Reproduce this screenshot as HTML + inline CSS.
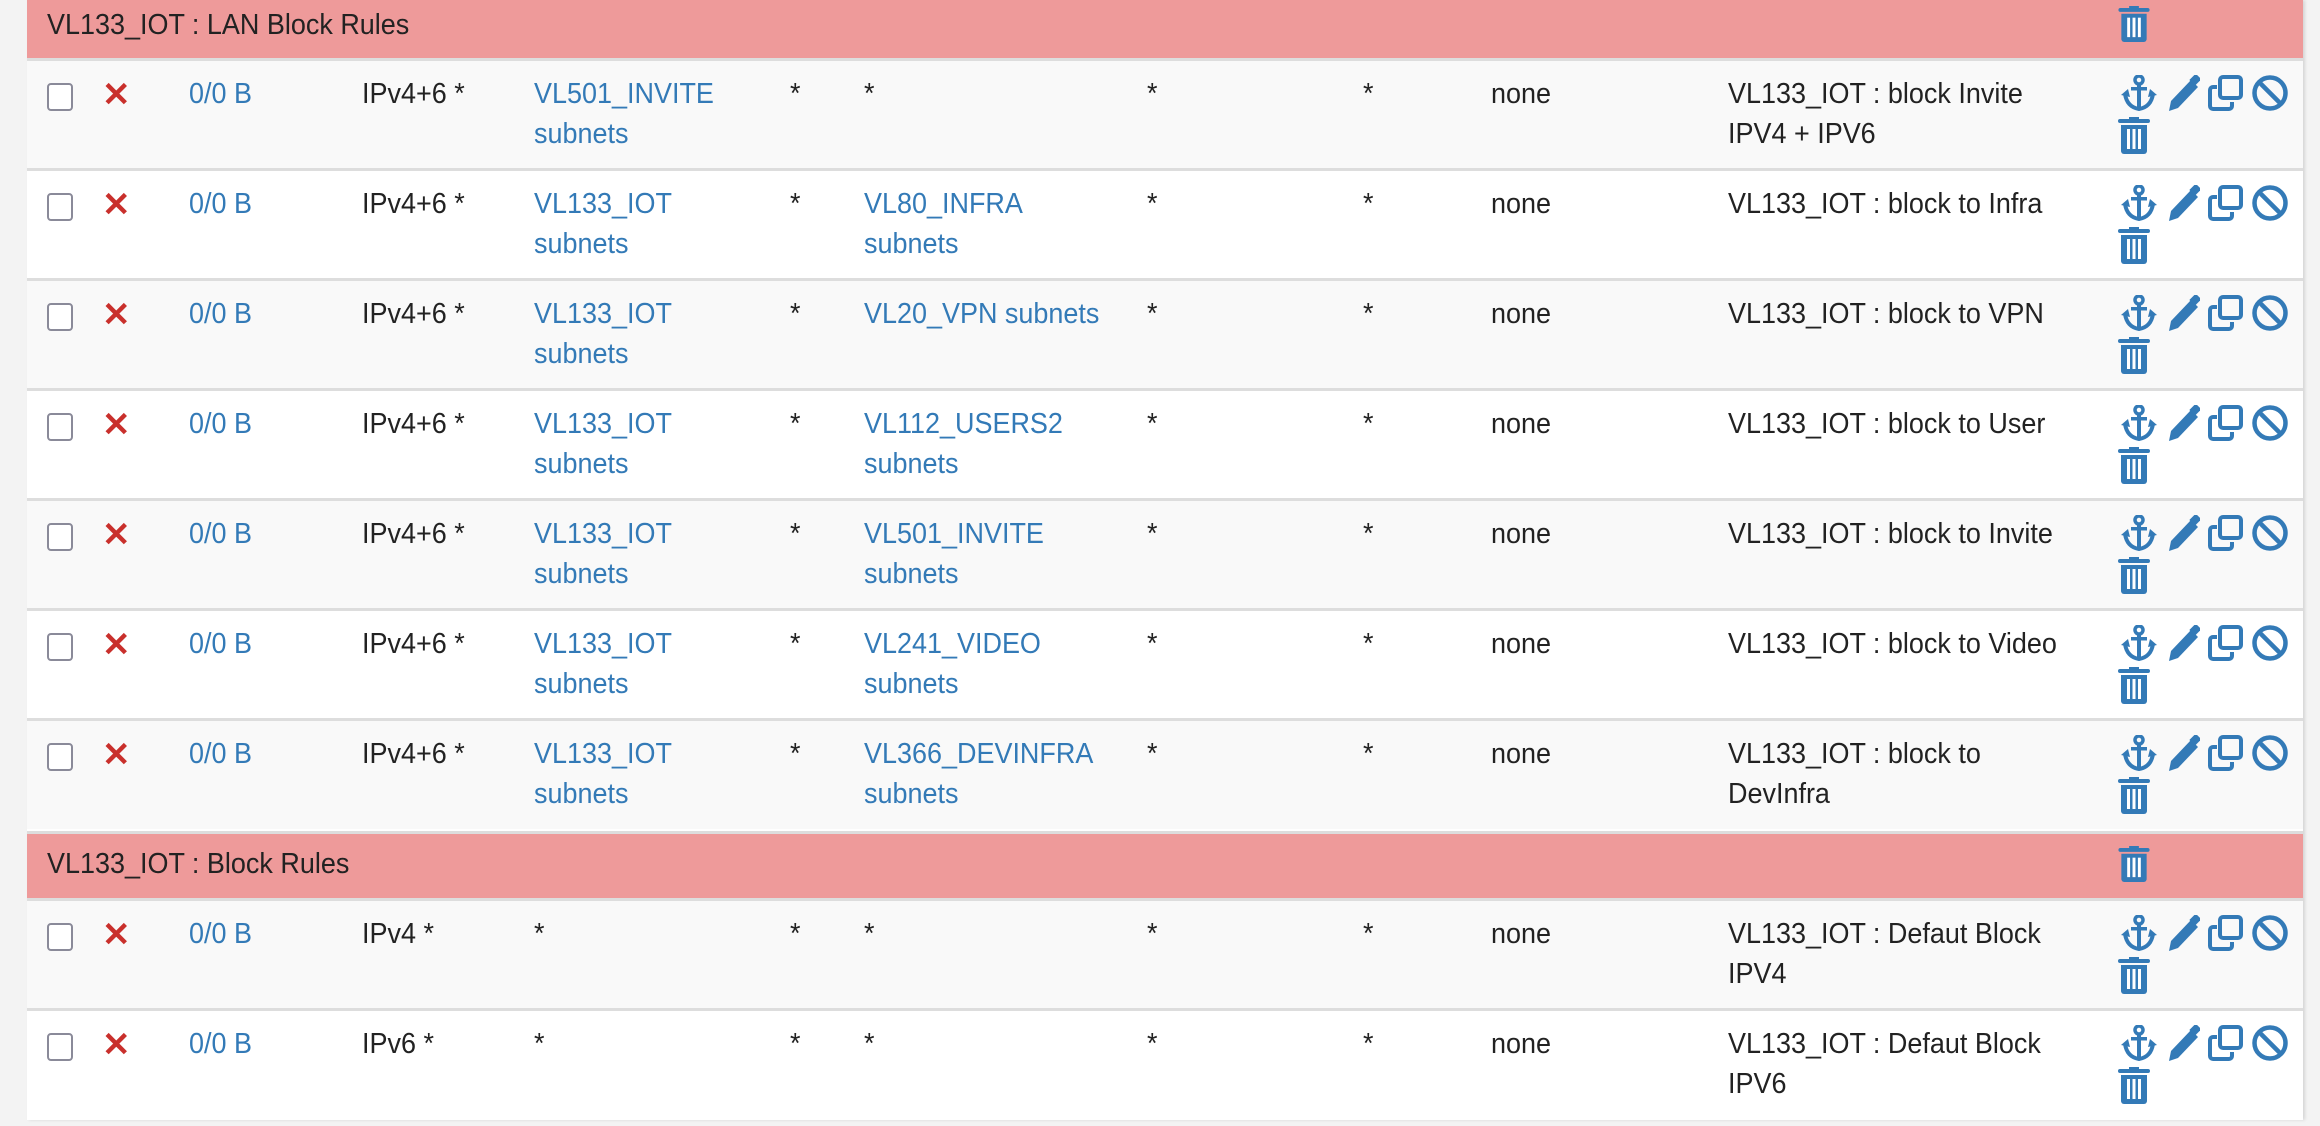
<!DOCTYPE html>
<html><head><meta charset="utf-8">
<style>
html,body{margin:0;padding:0}
body{width:2320px;height:1126px;background:#f3f3f3;position:relative;overflow:hidden;font-family:"Liberation Sans",sans-serif;color:#222}
.panel{position:absolute;left:27px;top:0;width:2276px;height:1120px;background:#fff;box-shadow:2px 0 3px rgba(0,0,0,0.12)}
.hdr{position:absolute;left:27px;width:2276px;background:#ee9a9a}
.row{position:absolute;left:27px;width:2276px;height:108px;border-top:3px solid #ddd}
.odd{background:#f9f9f9}.even{background:#fff}
.t{position:absolute;font-size:29px;line-height:40px;white-space:nowrap;transform:scaleX(0.93);transform-origin:0 0}
.a{color:#337ab7}
.cb{position:absolute;left:20px;top:22px;width:22px;height:24px;border:2px solid #8a8a99;border-radius:4px;background:#fff}
.x{position:absolute;left:75px;top:14px;font-size:34px;color:#c9302c;font-weight:bold;line-height:40px}
svg.ic{position:absolute;fill:#337ab7}
</style></head><body>
<svg width="0" height="0" style="position:absolute">
<defs>
<symbol id="anchor" viewBox="0 0 42 36"><circle cx="21" cy="5" r="4" fill="none" stroke="#337ab7" stroke-width="3.5"/><rect x="19" y="8" width="4" height="26"/><rect x="13" y="12" width="16" height="3.5"/><path d="M3 20 L10 14 L12 22 Z"/><path d="M39 20 L32 14 L30 22 Z"/><path d="M7 19 Q9 32 21 34 Q33 32 35 19" fill="none" stroke="#337ab7" stroke-width="4"/></symbol>
<symbol id="pencil" viewBox="0 0 34 36"><path d="M3 36 L5 26 L25 5 L32 12 L12 33 Z"/><rect x="25" y="0" width="8" height="9" transform="rotate(45 29 5)"/></symbol>
<symbol id="copy" viewBox="0 0 36 36"><rect x="12" y="2" width="21" height="21" rx="3" fill="none" stroke="#337ab7" stroke-width="4"/><path d="M9 12 H5 a3 3 0 0 0 -3 3 V31 a3 3 0 0 0 3 3 H21 a3 3 0 0 0 3 -3 V27" fill="none" stroke="#337ab7" stroke-width="4"/></symbol>
<symbol id="ban" viewBox="0 0 36 36"><circle cx="18" cy="18" r="15.5" fill="none" stroke="#337ab7" stroke-width="4.5"/><path d="M7 7 L29 29" stroke="#337ab7" stroke-width="4.5"/></symbol>
<symbol id="trash" viewBox="0 0 32 37"><rect x="0" y="2" width="32" height="4" rx="2"/><rect x="11" y="0" width="10" height="3"/><path d="M3 8 H29 V34 a3 3 0 0 1 -3 3 H6 a3 3 0 0 1 -3 -3 Z"/><rect x="9" y="12" width="3" height="20" fill="#fff"/><rect x="14.5" y="12" width="3" height="20" fill="#fff"/><rect x="20" y="12" width="3" height="20" fill="#fff"/></symbol>
</defs></svg>
<div class="panel"></div>

<div class="hdr" style="top:0;height:60px"><div class="t" style="left:20px;top:5px">VL133_IOT : LAN Block Rules</div><svg class="ic" style="left:2091px;top:6px" width="32" height="36"><use href="#trash"/></svg></div>

<div class="row odd" style="top:58px"><div class="cb"></div><div class="x">✕</div><div class="t a" style="left:162px;top:13px">0/0 B</div><div class="t" style="left:335px;top:13px">IPv4+6 *</div><div class="t a" style="left:507px;top:13px">VL501_INVITE<br>subnets</div><div class="t" style="left:763px;top:13px">*</div><div class="t" style="left:837px;top:13px">*</div><div class="t" style="left:1120px;top:13px">*</div><div class="t" style="left:1336px;top:13px">*</div><div class="t" style="left:1464px;top:13px">none</div><div class="t" style="left:1701px;top:13px">VL133_IOT : block Invite<br>IPV4 + IPV6</div><svg class="ic" style="left:2091px;top:14px" width="42" height="36"><use href="#anchor"/></svg><svg class="ic" style="left:2139px;top:14px" width="34" height="36"><use href="#pencil"/></svg><svg class="ic" style="left:2181px;top:14px" width="36" height="36"><use href="#copy"/></svg><svg class="ic" style="left:2225px;top:14px" width="36" height="36"><use href="#ban"/></svg><svg class="ic" style="left:2091px;top:56px" width="32" height="37"><use href="#trash"/></svg></div>

<div class="row even" style="top:168px"><div class="cb"></div><div class="x">✕</div><div class="t a" style="left:162px;top:13px">0/0 B</div><div class="t" style="left:335px;top:13px">IPv4+6 *</div><div class="t a" style="left:507px;top:13px">VL133_IOT<br>subnets</div><div class="t" style="left:763px;top:13px">*</div><div class="t a" style="left:837px;top:13px">VL80_INFRA<br>subnets</div><div class="t" style="left:1120px;top:13px">*</div><div class="t" style="left:1336px;top:13px">*</div><div class="t" style="left:1464px;top:13px">none</div><div class="t" style="left:1701px;top:13px">VL133_IOT : block to Infra</div><svg class="ic" style="left:2091px;top:14px" width="42" height="36"><use href="#anchor"/></svg><svg class="ic" style="left:2139px;top:14px" width="34" height="36"><use href="#pencil"/></svg><svg class="ic" style="left:2181px;top:14px" width="36" height="36"><use href="#copy"/></svg><svg class="ic" style="left:2225px;top:14px" width="36" height="36"><use href="#ban"/></svg><svg class="ic" style="left:2091px;top:56px" width="32" height="37"><use href="#trash"/></svg></div>

<div class="row odd" style="top:278px"><div class="cb"></div><div class="x">✕</div><div class="t a" style="left:162px;top:13px">0/0 B</div><div class="t" style="left:335px;top:13px">IPv4+6 *</div><div class="t a" style="left:507px;top:13px">VL133_IOT<br>subnets</div><div class="t" style="left:763px;top:13px">*</div><div class="t a" style="left:837px;top:13px">VL20_VPN subnets</div><div class="t" style="left:1120px;top:13px">*</div><div class="t" style="left:1336px;top:13px">*</div><div class="t" style="left:1464px;top:13px">none</div><div class="t" style="left:1701px;top:13px">VL133_IOT : block to VPN</div><svg class="ic" style="left:2091px;top:14px" width="42" height="36"><use href="#anchor"/></svg><svg class="ic" style="left:2139px;top:14px" width="34" height="36"><use href="#pencil"/></svg><svg class="ic" style="left:2181px;top:14px" width="36" height="36"><use href="#copy"/></svg><svg class="ic" style="left:2225px;top:14px" width="36" height="36"><use href="#ban"/></svg><svg class="ic" style="left:2091px;top:56px" width="32" height="37"><use href="#trash"/></svg></div>

<div class="row even" style="top:388px"><div class="cb"></div><div class="x">✕</div><div class="t a" style="left:162px;top:13px">0/0 B</div><div class="t" style="left:335px;top:13px">IPv4+6 *</div><div class="t a" style="left:507px;top:13px">VL133_IOT<br>subnets</div><div class="t" style="left:763px;top:13px">*</div><div class="t a" style="left:837px;top:13px">VL112_USERS2<br>subnets</div><div class="t" style="left:1120px;top:13px">*</div><div class="t" style="left:1336px;top:13px">*</div><div class="t" style="left:1464px;top:13px">none</div><div class="t" style="left:1701px;top:13px">VL133_IOT : block to User</div><svg class="ic" style="left:2091px;top:14px" width="42" height="36"><use href="#anchor"/></svg><svg class="ic" style="left:2139px;top:14px" width="34" height="36"><use href="#pencil"/></svg><svg class="ic" style="left:2181px;top:14px" width="36" height="36"><use href="#copy"/></svg><svg class="ic" style="left:2225px;top:14px" width="36" height="36"><use href="#ban"/></svg><svg class="ic" style="left:2091px;top:56px" width="32" height="37"><use href="#trash"/></svg></div>

<div class="row odd" style="top:498px"><div class="cb"></div><div class="x">✕</div><div class="t a" style="left:162px;top:13px">0/0 B</div><div class="t" style="left:335px;top:13px">IPv4+6 *</div><div class="t a" style="left:507px;top:13px">VL133_IOT<br>subnets</div><div class="t" style="left:763px;top:13px">*</div><div class="t a" style="left:837px;top:13px">VL501_INVITE<br>subnets</div><div class="t" style="left:1120px;top:13px">*</div><div class="t" style="left:1336px;top:13px">*</div><div class="t" style="left:1464px;top:13px">none</div><div class="t" style="left:1701px;top:13px">VL133_IOT : block to Invite</div><svg class="ic" style="left:2091px;top:14px" width="42" height="36"><use href="#anchor"/></svg><svg class="ic" style="left:2139px;top:14px" width="34" height="36"><use href="#pencil"/></svg><svg class="ic" style="left:2181px;top:14px" width="36" height="36"><use href="#copy"/></svg><svg class="ic" style="left:2225px;top:14px" width="36" height="36"><use href="#ban"/></svg><svg class="ic" style="left:2091px;top:56px" width="32" height="37"><use href="#trash"/></svg></div>

<div class="row even" style="top:608px"><div class="cb"></div><div class="x">✕</div><div class="t a" style="left:162px;top:13px">0/0 B</div><div class="t" style="left:335px;top:13px">IPv4+6 *</div><div class="t a" style="left:507px;top:13px">VL133_IOT<br>subnets</div><div class="t" style="left:763px;top:13px">*</div><div class="t a" style="left:837px;top:13px">VL241_VIDEO<br>subnets</div><div class="t" style="left:1120px;top:13px">*</div><div class="t" style="left:1336px;top:13px">*</div><div class="t" style="left:1464px;top:13px">none</div><div class="t" style="left:1701px;top:13px">VL133_IOT : block to Video</div><svg class="ic" style="left:2091px;top:14px" width="42" height="36"><use href="#anchor"/></svg><svg class="ic" style="left:2139px;top:14px" width="34" height="36"><use href="#pencil"/></svg><svg class="ic" style="left:2181px;top:14px" width="36" height="36"><use href="#copy"/></svg><svg class="ic" style="left:2225px;top:14px" width="36" height="36"><use href="#ban"/></svg><svg class="ic" style="left:2091px;top:56px" width="32" height="37"><use href="#trash"/></svg></div>

<div class="row odd" style="top:718px"><div class="cb"></div><div class="x">✕</div><div class="t a" style="left:162px;top:13px">0/0 B</div><div class="t" style="left:335px;top:13px">IPv4+6 *</div><div class="t a" style="left:507px;top:13px">VL133_IOT<br>subnets</div><div class="t" style="left:763px;top:13px">*</div><div class="t a" style="left:837px;top:13px">VL366_DEVINFRA<br>subnets</div><div class="t" style="left:1120px;top:13px">*</div><div class="t" style="left:1336px;top:13px">*</div><div class="t" style="left:1464px;top:13px">none</div><div class="t" style="left:1701px;top:13px">VL133_IOT : block to<br>DevInfra</div><svg class="ic" style="left:2091px;top:14px" width="42" height="36"><use href="#anchor"/></svg><svg class="ic" style="left:2139px;top:14px" width="34" height="36"><use href="#pencil"/></svg><svg class="ic" style="left:2181px;top:14px" width="36" height="36"><use href="#copy"/></svg><svg class="ic" style="left:2225px;top:14px" width="36" height="36"><use href="#ban"/></svg><svg class="ic" style="left:2091px;top:56px" width="32" height="37"><use href="#trash"/></svg></div>

<div class="hdr" style="top:831px;height:67px;border-top:3px solid #ddd"><div class="t" style="left:20px;top:10px">VL133_IOT : Block Rules</div><svg class="ic" style="left:2091px;top:12px" width="32" height="36"><use href="#trash"/></svg></div>

<div class="row odd" style="top:898px"><div class="cb"></div><div class="x">✕</div><div class="t a" style="left:162px;top:13px">0/0 B</div><div class="t" style="left:335px;top:13px">IPv4 *</div><div class="t" style="left:507px;top:13px">*</div><div class="t" style="left:763px;top:13px">*</div><div class="t" style="left:837px;top:13px">*</div><div class="t" style="left:1120px;top:13px">*</div><div class="t" style="left:1336px;top:13px">*</div><div class="t" style="left:1464px;top:13px">none</div><div class="t" style="left:1701px;top:13px">VL133_IOT : Defaut Block<br>IPV4</div><svg class="ic" style="left:2091px;top:14px" width="42" height="36"><use href="#anchor"/></svg><svg class="ic" style="left:2139px;top:14px" width="34" height="36"><use href="#pencil"/></svg><svg class="ic" style="left:2181px;top:14px" width="36" height="36"><use href="#copy"/></svg><svg class="ic" style="left:2225px;top:14px" width="36" height="36"><use href="#ban"/></svg><svg class="ic" style="left:2091px;top:56px" width="32" height="37"><use href="#trash"/></svg></div>

<div class="row even" style="top:1008px"><div class="cb"></div><div class="x">✕</div><div class="t a" style="left:162px;top:13px">0/0 B</div><div class="t" style="left:335px;top:13px">IPv6 *</div><div class="t" style="left:507px;top:13px">*</div><div class="t" style="left:763px;top:13px">*</div><div class="t" style="left:837px;top:13px">*</div><div class="t" style="left:1120px;top:13px">*</div><div class="t" style="left:1336px;top:13px">*</div><div class="t" style="left:1464px;top:13px">none</div><div class="t" style="left:1701px;top:13px">VL133_IOT : Defaut Block<br>IPV6</div><svg class="ic" style="left:2091px;top:14px" width="42" height="36"><use href="#anchor"/></svg><svg class="ic" style="left:2139px;top:14px" width="34" height="36"><use href="#pencil"/></svg><svg class="ic" style="left:2181px;top:14px" width="36" height="36"><use href="#copy"/></svg><svg class="ic" style="left:2225px;top:14px" width="36" height="36"><use href="#ban"/></svg><svg class="ic" style="left:2091px;top:56px" width="32" height="37"><use href="#trash"/></svg></div>
</body></html>
